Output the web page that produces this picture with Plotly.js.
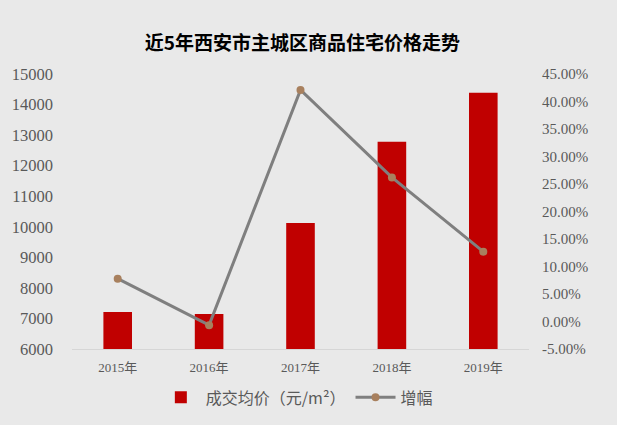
<!DOCTYPE html>
<html>
<head>
<meta charset="utf-8">
<script src="https://cdn.plot.ly/plotly-3.0.1.min.js"></script>
<style>
  html, body { margin: 0; padding: 0; background: #e9e9e9; }
  #chart { width: 617px; height: 425px; }
</style>
</head>
<body>
<div id="chart"></div>
<script>
// 近5年西安市主城区商品住宅价格
const years = ['2015年', '2016年', '2017年', '2018年', '2019年'];
const avgPrice = [7210, 7145, 10125, 12780, 14390];       // 成交均价（元/m²）
const growth = [0.0778, -0.0066, 0.421, 0.262, 0.127];      // 增幅

const pctTicks = [-0.05, 0, 0.05, 0.10, 0.15, 0.20, 0.25, 0.30, 0.35, 0.40, 0.45];
const pctLabels = pctTicks.map(v => (v * 100).toFixed(2) + '%');

const serif = '"Liberation Serif", "Noto Sans CJK SC", serif';

var data = [
  {
    x: years,
    y: avgPrice,
    name: '成交均价（元/m²）',
    type: 'bar',
    marker: { color: '#c00000' },
    hoverinfo: 'skip'
  },
  {
    x: years,
    y: growth,
    name: '增幅',
    yaxis: 'y2',
    type: 'scatter',
    mode: 'lines+markers',
    line: { color: '#7f7f7f', width: 3 },
    marker: { color: '#a8805e', size: 8 },
    hoverinfo: 'skip'
  }
];

var layout = {
  width: 617,
  height: 425,
  paper_bgcolor: '#e9e9e9',
  plot_bgcolor: '#e9e9e9',
  margin: { l: 72, r: 88, t: 74, b: 75 },
  bargap: 0.687,
  showlegend: true,
  title: {
    text: '<b>近5年西安市主城区商品住宅价格走势</b>',
    font: { family: '"Noto Sans CJK SC", sans-serif', size: 19, color: '#000000' },
    x: 0.49,
    xanchor: 'center',
    xref: 'container',
    y: 0.899,
    yref: 'container',
    yanchor: 'middle'
  },
  xaxis: {
    showgrid: false,
    zeroline: false,
    showline: true,
    linecolor: '#d6d6d6',
    linewidth: 1,
    ticks: '',
    ticklabelstandoff: 6,
    tickfont: { family: serif, size: 13, color: '#595959' }
  },
  yaxis: {
    range: [6000, 15000],
    dtick: 1000,
    showgrid: false,
    zeroline: false,
    showline: false,
    ticks: '',
    tickformat: 'd',
    ticklabelstandoff: 18,
    tickfont: { family: serif, size: 16.5, color: '#595959' }
  },
  yaxis2: {
    overlaying: 'y',
    side: 'right',
    range: [-0.05, 0.45],
    tickvals: pctTicks,
    ticktext: pctLabels,
    showgrid: false,
    zeroline: false,
    showline: false,
    ticks: '',
    ticklabelstandoff: 12,
    tickfont: { family: serif, size: 15, color: '#595959' }
  },
  legend: {
    orientation: 'h',
    x: 0.492,
    xanchor: 'center',
    y: -0.172,
    yanchor: 'middle',
    bgcolor: 'rgba(0,0,0,0)',
    itemwidth: 40,
    font: { family: '"Noto Sans CJK SC", sans-serif', size: 16, color: '#595959' }
  }
};

Plotly.newPlot('chart', data, layout, { displayModeBar: false, staticPlot: true });
</script>
</body>
</html>
